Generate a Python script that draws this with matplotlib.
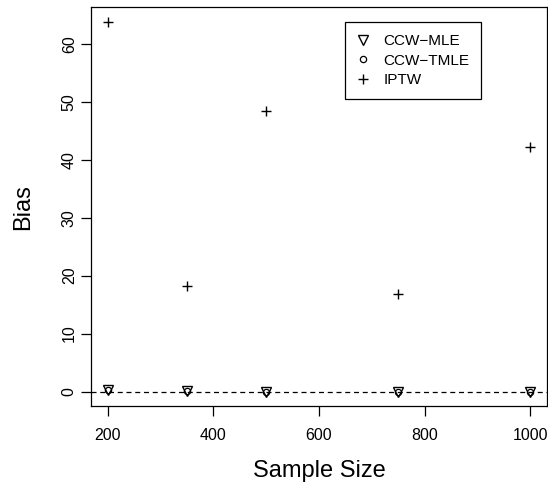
# Bias vs sample size, R base-graphics look

import matplotlib
matplotlib.use('Agg')
import matplotlib.pyplot as plt
from matplotlib.lines import Line2D

plt.rcParams['font.family'] = ['Liberation Sans', 'DejaVu Sans']

sizes = [200, 350, 500, 750, 1000]
ccw_mle = [0.3, 0.05, 0.0, -0.1, -0.1]
ccw_tmle = [0.25, 0.05, 0.0, -0.1, -0.1]
iptw = [63.7, 18.2, 48.4, 16.8, 42.2]

xticks = [200, 400, 600, 800, 1000]
yticks = [0, 10, 20, 30, 40, 50, 60]

fig = plt.figure(figsize=(5.48, 4.87), dpi=100)
ax = fig.add_axes([0.1655, 0.1663, 0.833, 0.8187])

ax.axhline(0, color='black', linestyle=(0, (4, 3)), linewidth=0.9, zorder=1)
ax.plot(sizes, ccw_mle, linestyle='none', marker='v', markersize=6.5,
        markerfacecolor='none', markeredgecolor='black', markeredgewidth=1.0)
ax.plot(sizes, ccw_tmle, linestyle='none', marker='o', markersize=4.5,
        markerfacecolor='none', markeredgecolor='black', markeredgewidth=0.9)
ax.plot(sizes, iptw, linestyle='none', marker='+', markersize=7,
        color='black', markeredgewidth=1.0)

ax.set_xlim(168, 1032)
ax.set_ylim(-2.5, 66.3)
ax.set_xticks(xticks)
ax.set_yticks(yticks)
ax.tick_params(axis='both', direction='out', length=7, width=0.9,
               labelsize=11.5, color='black')
ax.tick_params(axis='x', pad=9)
ax.tick_params(axis='y', pad=3)
for lab in ax.get_yticklabels():
    lab.set_rotation(90)
    lab.set_va('center')
for sp in ax.spines.values():
    sp.set_linewidth(0.9)

ax.set_xlabel('Sample Size', fontsize=17, labelpad=12)
ax.set_ylabel('Bias', fontsize=17, labelpad=20)

handles = [
    Line2D([], [], linestyle='none', marker='v', markersize=6.5,
           markerfacecolor='none', markeredgecolor='black', markeredgewidth=1.0),
    Line2D([], [], linestyle='none', marker='o', markersize=4.5,
           markerfacecolor='none', markeredgecolor='black', markeredgewidth=0.9),
    Line2D([], [], linestyle='none', marker='+', markersize=7,
           color='black', markeredgewidth=1.0),
]
leg = ax.legend(handles, ['CCW\u2212MLE', 'CCW\u2212TMLE', 'IPTW'],
                loc='upper left', bbox_to_anchor=(0.557, 0.963),
                fontsize=11, frameon=True, fancybox=False, framealpha=1,
                edgecolor='black', handlelength=0.8, handletextpad=0.9,
                borderpad=0.8, labelspacing=0.35, borderaxespad=0)
leg.get_frame().set_linewidth(0.9)

fig.savefig('out.png', dpi=100)
